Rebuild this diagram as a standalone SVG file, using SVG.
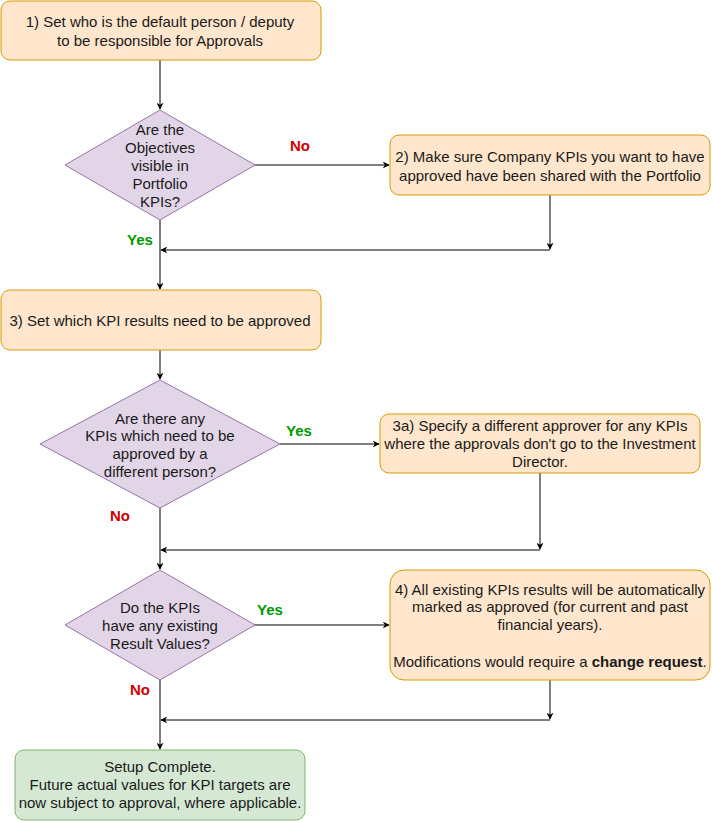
<svg xmlns="http://www.w3.org/2000/svg" width="712" height="822" viewBox="0 0 712 822">
<defs>
<marker id="arr" viewBox="0 0 10 10" refX="9" refY="5" markerWidth="7" markerHeight="7" orient="auto" markerUnits="userSpaceOnUse">
<path d="M0,0 L10,5 L0,10 L3,5 Z" fill="#000"/>
</marker>
<style>
.box{fill:#ffe6cc;stroke:#d79b00;stroke-width:1}
.dia{fill:#e1d5e7;stroke:#9673a6;stroke-width:1}
.end{fill:#d5e8d4;stroke:#82b366;stroke-width:1}
.t{font-family:"Liberation Sans",Arial,sans-serif;font-size:15px;fill:#1a1a1a;text-anchor:middle}
.e{stroke:#000;stroke-width:1;fill:none;marker-end:url(#arr)}
.yes{font-family:"Liberation Sans",Arial,sans-serif;font-size:15px;font-weight:bold;fill:#009900;text-anchor:middle}
.no{font-family:"Liberation Sans",Arial,sans-serif;font-size:15px;font-weight:bold;fill:#cc0000;text-anchor:middle}
</style>
</defs>
<rect width="712" height="822" fill="#fff"/>
<g id="connectors">
<path class="e" d="M160,60 L160,109"/>
<path class="e" d="M255,165 L389,165"/>
<path class="e" d="M550,195 L550,249"/>
<path class="e" d="M550,250 L161,250"/>
<path class="e" d="M160,220 L160,289"/>
<path class="e" d="M160,350 L160,379"/>
<path class="e" d="M280,444 L379,444"/>
<path class="e" d="M540,473 L540,549"/>
<path class="e" d="M540,550 L161,550"/>
<path class="e" d="M160,508 L160,569"/>
<path class="e" d="M255,625 L389,625"/>
<path class="e" d="M550,680 L550,719"/>
<path class="e" d="M550,720 L161,720"/>
<path class="e" d="M160,680 L160,749"/>
</g>
<g id="labels">
<text class="no" x="300" y="151">No</text>
<text class="yes" x="140" y="245">Yes</text>
<text class="yes" x="299" y="436">Yes</text>
<text class="no" x="120" y="521">No</text>
<text class="yes" x="270" y="615">Yes</text>
<text class="no" x="140" y="695">No</text>
</g>
<g id="n1">
<rect class="box" x="1" y="1" width="320" height="59" rx="9"/>
<text class="t" x="160" y="27">1) Set who is the default person / deputy</text>
<text class="t" x="160" y="46">to be responsible for Approvals</text>
</g>
<g id="d1">
<polygon class="dia" points="160,110 255,165 160,220 65,165"/>
<text class="t" x="160" y="135">Are the</text>
<text class="t" x="160" y="153">Objectives</text>
<text class="t" x="160" y="171">visible in</text>
<text class="t" x="160" y="189">Portfolio</text>
<text class="t" x="160" y="207">KPIs?</text>
</g>
<g id="n2">
<rect class="box" x="390" y="135" width="320" height="60" rx="9"/>
<text class="t" x="550" y="162">2) Make sure Company KPIs you want to have</text>
<text class="t" x="550" y="181">approved have been shared with the Portfolio</text>
</g>
<g id="n3">
<rect class="box" x="1" y="290" width="320" height="60" rx="9"/>
<text class="t" x="160" y="326">3) Set which KPI results need to be approved</text>
</g>
<g id="d2">
<polygon class="dia" points="160,380 280,444 160,508 40,444"/>
<text class="t" x="160" y="424">Are there any</text>
<text class="t" x="160" y="441">KPIs which need to be</text>
<text class="t" x="160" y="459">approved by a</text>
<text class="t" x="160" y="477">different person?</text>
</g>
<g id="n3a">
<rect class="box" x="380" y="414" width="320" height="59" rx="9"/>
<text class="t" x="540" y="431">3a) Specify a different approver for any KPIs</text>
<text class="t" x="540" y="449">where the approvals don't go to the Investment</text>
<text class="t" x="540" y="467">Director.</text>
</g>
<g id="d3">
<polygon class="dia" points="160,570 255,625 160,680 65,625"/>
<text class="t" x="160" y="613">Do the KPIs</text>
<text class="t" x="160" y="631">have any existing</text>
<text class="t" x="160" y="649">Result Values?</text>
</g>
<g id="n4">
<rect class="box" x="390" y="570" width="320" height="110" rx="14"/>
<text class="t" x="550" y="595">4) All existing KPIs results will be automatically</text>
<text class="t" x="550" y="612">marked as approved (for current and past</text>
<text class="t" x="550" y="630">financial years).</text>
<text class="t" x="550" y="667">Modifications would require a <tspan font-weight="bold">change request</tspan>.</text>
</g>
<g id="n5">
<rect class="end" x="15" y="750" width="290" height="70" rx="9"/>
<text class="t" x="160" y="772">Setup Complete.</text>
<text class="t" x="160" y="790">Future actual values for KPI targets are</text>
<text class="t" x="160" y="808">now subject to approval, where applicable.</text>
</g>
</svg>
